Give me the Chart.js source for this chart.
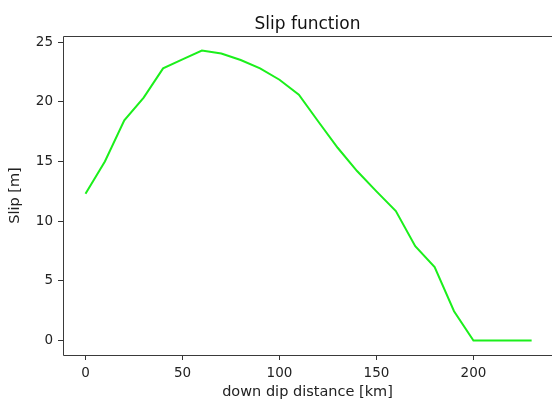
<!DOCTYPE html>
<html>
<head>
<meta charset="utf-8">
<script src="https://cdn.jsdelivr.net/npm/chart.js@4"></script>
<style>
  html, body { margin:0; padding:0; background:#fff; overflow:hidden; }
  #wrap { width:552px; height:401px; position:relative; }
</style>
</head>
<body>
<div id="wrap"><canvas id="c" width="552" height="401"></canvas></div>
<script>
const distanceKm = [0, 10, 20, 30, 40, 50, 60, 70, 80, 90, 100, 110, 120, 130, 140, 150, 160, 170, 180, 190, 200, 210, 220, 230];
const slipM = [12.3, 15.0, 18.45, 20.35, 22.8, 23.55, 24.3, 24.05, 23.5, 22.8, 21.85, 20.6, 18.35, 16.15, 14.2, 12.5, 10.85, 7.9, 6.15, 2.45, 0, 0, 0, 0];
const xTicks = [0, 50, 100, 150, 200];
const yTicks = [0, 5, 10, 15, 20, 25];

const points = distanceKm.map((d, i) => ({ x: d, y: slipM[i] }));

const frame = {
  id: 'frame',
  afterDraw(chart) {
    const a = chart.chartArea, ctx = chart.ctx;
    const l = Math.round(a.left) + 0.5, t = Math.round(a.top) + 0.5, b = Math.round(a.bottom) + 0.5, r = Math.round(a.right) + 2;
    ctx.save();
    ctx.strokeStyle = '#3a3a3a';
    ctx.lineWidth = 1;
    ctx.beginPath();
    ctx.moveTo(r, t); ctx.lineTo(l, t); ctx.lineTo(l, b); ctx.lineTo(r, b);
    ctx.stroke();
    ctx.restore();
  }
};

const tickFont = { family: 'DejaVu Sans', size: 13.5 };
const labelFont = { family: 'DejaVu Sans', size: 14.5 };
new Chart(document.getElementById('c'), {
  type: 'line',
  data: { datasets: [{ data: points, borderColor: '#1bef1b', borderWidth: 2, pointRadius: 0, fill: false, tension: 0 }] },
  plugins: [frame],
  options: {
    responsive: false,
    animation: false,
    layout: { padding: { left: 0, right: 0, top: 0, bottom: 0 } },
    plugins: {
      legend: { display: false },
      tooltip: { enabled: false },
      title: { display: true, fullSize: false, text: 'Slip function', color: '#111', font: { family: 'DejaVu Sans', size: 17, weight: 'normal' }, padding: { top: 14, bottom: 1.6 } }
    },
    scales: {
      x: {
        type: 'linear', min: -11.6, max: 240.5,
        afterBuildTicks: s => { s.ticks = xTicks.map(v => ({ value: v })); },
        afterFit: s => { s.height = 46; },
        grid: { drawOnChartArea: false, drawTicks: true, tickLength: 5, color: '#333', tickWidth: 1 },
        border: { display: false },
        ticks: { color: '#222', font: tickFont, padding: 5.5, maxRotation: 0, autoSkip: false },
        title: { display: true, text: 'down dip distance [km]', color: '#222', font: labelFont, padding: { top: 0, bottom: 0 } }
      },
      y: {
        type: 'linear', min: -1.215, max: 25.515,
        afterBuildTicks: s => { s.ticks = yTicks.map(v => ({ value: v })); },
        afterFit: s => { s.width = 63; },
        grid: { drawOnChartArea: false, drawTicks: true, tickLength: 5, color: '#333', tickWidth: 1 },
        border: { display: false },
        ticks: { color: '#222', font: tickFont, padding: 5, autoSkip: false },
        title: { display: true, text: 'Slip [m]', color: '#222', font: labelFont, padding: { top: 6.3, bottom: 0 } }
      }
    }
  }
});
</script>
</body>
</html>
